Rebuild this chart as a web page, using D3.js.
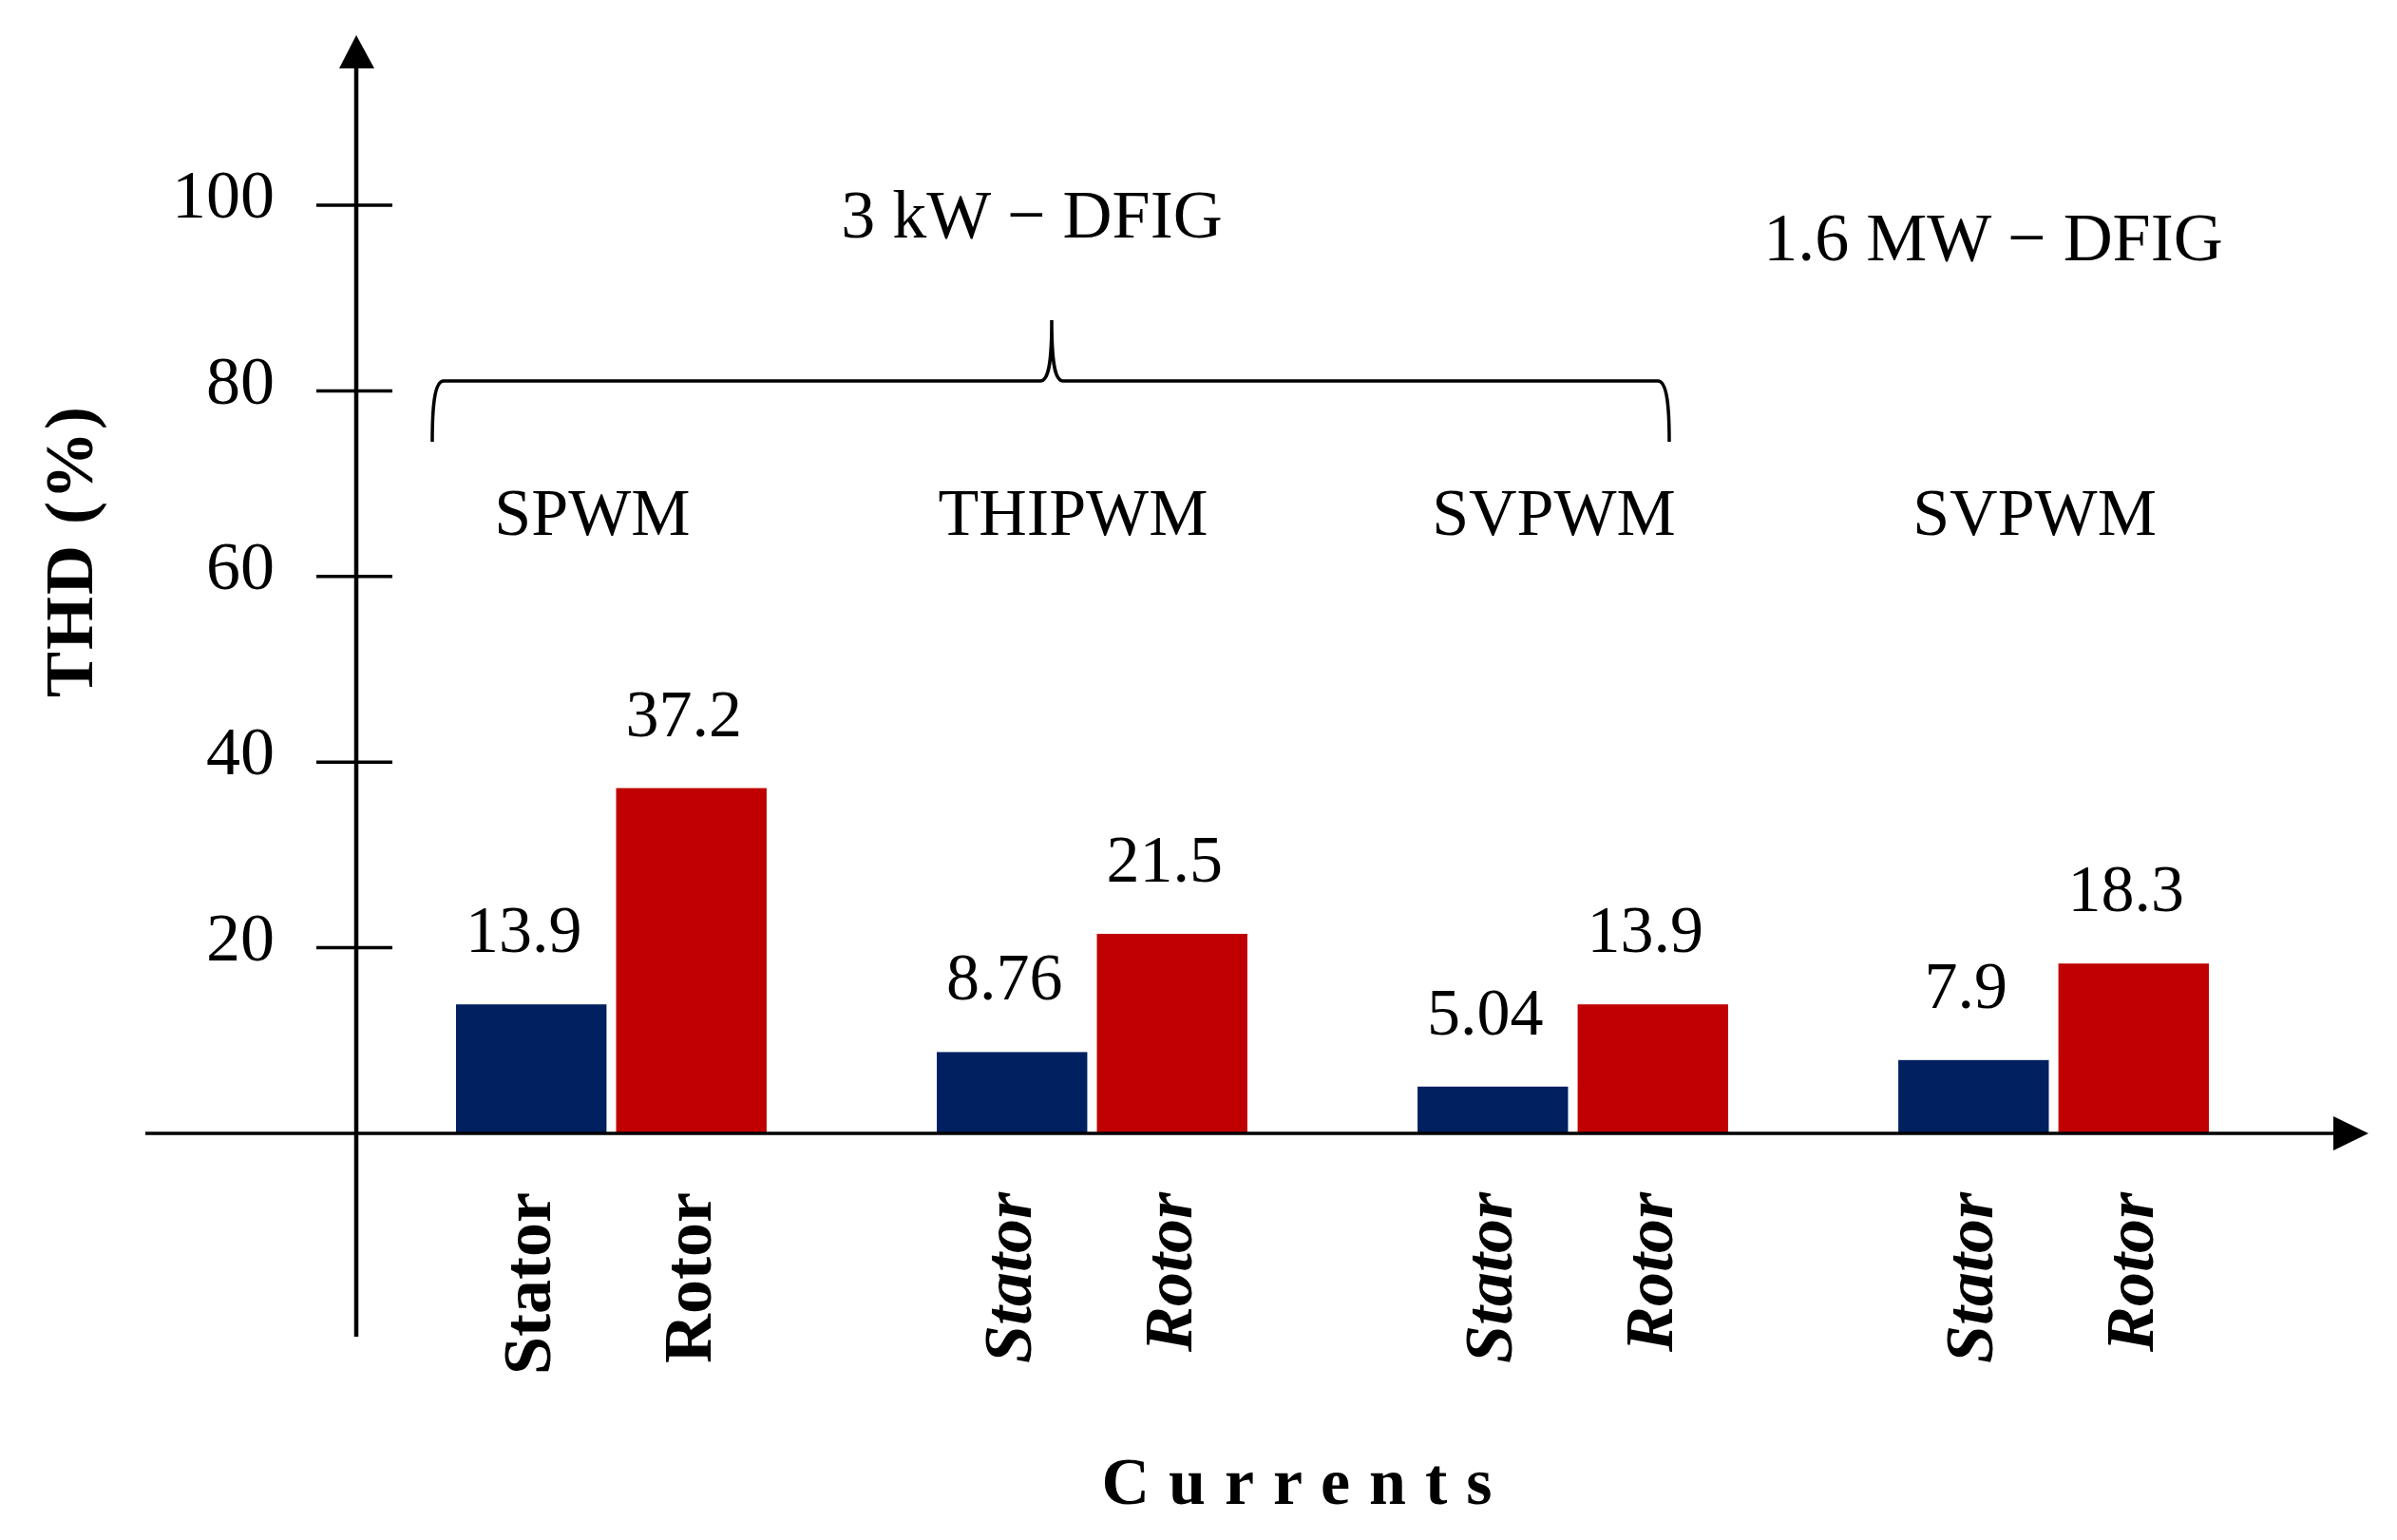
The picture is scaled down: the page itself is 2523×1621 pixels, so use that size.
<!DOCTYPE html>
<html>
<head>
<meta charset="utf-8">
<script src="https://cdn.jsdelivr.net/npm/d3@7"></script>
<style>
  body { margin: 0; background: #fff; }
  text { font-family: "Liberation Serif", serif; fill: #000; }
</style>
</head>
<body>
<script>
const groups = ["SPWM", "THIPWM", "SVPWM", "SVPWM 1.6MW"]
const groupLabels = ["SPWM", "THIPWM", "SVPWM", "SVPWM"]
const currents = ["Stator", "Rotor"]
const stator = [13.9, 8.76, 5.04, 7.9]
const rotor = [37.2, 21.5, 13.9, 18.3]
const yTicks = [20, 40, 60, 80, 100]

const width = 2523
const height = 1621
const axisX = 375
const baseY = 1193

const svg = d3.select("body").append("svg")
  .attr("width", width)
  .attr("height", height)

const x = d3.scaleBand()
  .domain(groups)
  .range([480, 2325])
  .paddingInner(0.354)
  .paddingOuter(0)

const xInner = d3.scaleBand()
  .domain(currents)
  .range([0, x.bandwidth()])
  .paddingInner(0.06)

const y = d3.scaleLinear()
  .domain([0, 100])
  .range([baseY, 216])

const colors = d3.scaleOrdinal()
  .domain(currents)
  .range(["#002060", "#C00000"])

const rows = groups.flatMap((g, i) => [
  {group: g, i, kind: "Stator", value: stator[i]},
  {group: g, i, kind: "Rotor", value: rotor[i]}
])

// bars
svg.append("g")
  .selectAll("rect")
  .data(rows)
  .join("rect")
    .attr("x", d => x(d.group) + xInner(d.kind))
    .attr("y", d => y(d.value))
    .attr("width", xInner.bandwidth())
    .attr("height", d => y(0) - y(d.value))
    .attr("fill", d => colors(d.kind))

// value labels
svg.append("g")
  .attr("font-size", 70)
  .attr("text-anchor", "middle")
  .selectAll("text")
  .data(rows)
  .join("text")
    .attr("x", d => x(d.group) + xInner(d.kind) + xInner.bandwidth() / 2 - 8)
    .attr("y", d => y(d.value) - 55)
    .text(d => d.value)

// category labels (rotated)
svg.append("g")
  .attr("font-size", 72)
  .attr("font-weight", "bold")
  .attr("text-anchor", "end")
  .selectAll("text")
  .data(rows)
  .join("text")
    .attr("transform", d => `translate(${x(d.group) + xInner(d.kind) + xInner.bandwidth() / 2 + 20},1255) rotate(-90)`)
    .attr("font-style", d => d.i === 0 ? "normal" : "italic")
    .text(d => d.kind)

// group labels
svg.append("g")
  .attr("font-size", 70)
  .attr("text-anchor", "middle")
  .selectAll("text")
  .data(groups)
  .join("text")
    .attr("x", d => x(d) + x.bandwidth() / 2 - 20)
    .attr("y", 563)
    .text((d, i) => groupLabels[i])

// axes
const axes = svg.append("g")
  .attr("stroke", "#000")

axes.append("line")
  .attr("x1", axisX).attr("x2", axisX)
  .attr("y1", 70).attr("y2", 1407)
  .attr("stroke-width", 4.5)

axes.append("path")
  .attr("d", `M${axisX},37L${axisX - 18},72L${axisX + 19},72Z`)
  .attr("fill", "#000").attr("stroke", "none")

axes.append("line")
  .attr("x1", 153).attr("x2", 2458)
  .attr("y1", y(0)).attr("y2", y(0))
  .attr("stroke-width", 3.5)

axes.append("path")
  .attr("d", `M2493,${y(0)}L2456,${y(0) - 18}L2456,${y(0) + 18}Z`)
  .attr("fill", "#000").attr("stroke", "none")

axes.selectAll(".tick")
  .data(yTicks)
  .join("line")
    .attr("class", "tick")
    .attr("x1", axisX - 42).attr("x2", axisX + 38)
    .attr("y1", d => y(d)).attr("y2", d => y(d))
    .attr("stroke-width", 3.5)

svg.append("g")
  .attr("font-size", 72)
  .attr("text-anchor", "end")
  .selectAll("text")
  .data(yTicks)
  .join("text")
    .attr("x", 289)
    .attr("y", d => y(d) - 12)
    .attr("dy", "0.35em")
    .text(d => d)

// brace over the 3 kW groups
const bL = 455, bR = 1757, bM = 1107, bY = 401
svg.append("path")
  .attr("d", `M${bL},465 C${bL},430 ${bL + 2},${bY} ${bL + 12},${bY}
    L${bM - 12},${bY} C${bM - 3},${bY} ${bM},${bY - 20} ${bM},337
    C${bM},${bY - 20} ${bM + 3},${bY} ${bM + 12},${bY}
    L${bR - 12},${bY} C${bR - 2},${bY} ${bR},430 ${bR},465`)
  .attr("fill", "none")
  .attr("stroke", "#000")
  .attr("stroke-width", 3.5)

svg.append("text")
  .attr("x", 1086).attr("y", 250)
  .attr("font-size", 72)
  .attr("text-anchor", "middle")
  .text("3 kW − DFIG")

svg.append("text")
  .attr("x", 2098).attr("y", 274)
  .attr("font-size", 72)
  .attr("text-anchor", "middle")
  .text("1.6 MW − DFIG")

// axis titles
svg.append("text")
  .attr("transform", "translate(97,580) rotate(-90)")
  .attr("font-size", 72)
  .attr("font-weight", "bold")
  .attr("text-anchor", "middle")
  .attr("letter-spacing", 2)
  .text("THD (%)")

svg.append("text")
  .attr("x", 1375).attr("y", 1583)
  .attr("font-size", 70)
  .attr("font-weight", "bold")
  .attr("text-anchor", "middle")
  .attr("letter-spacing", 20)
  .text("Currents")
</script>
</body>
</html>
